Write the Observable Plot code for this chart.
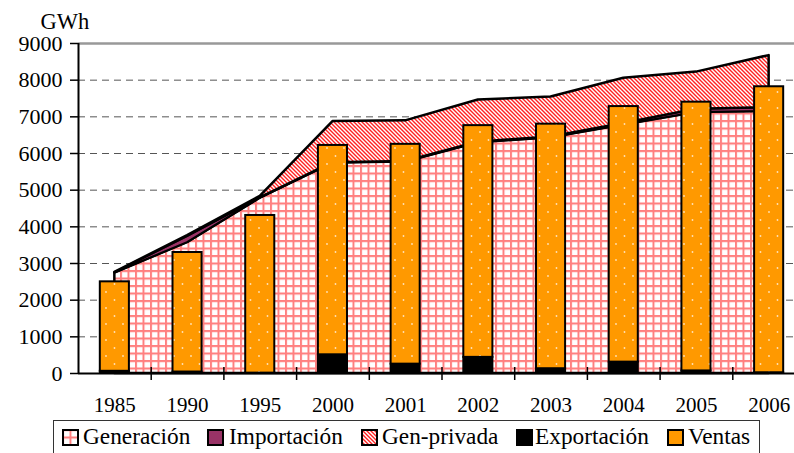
<!DOCTYPE html>
<html>
<head>
<meta charset="utf-8">
<script src="https://cdn.jsdelivr.net/npm/d3@7"></script>
<script src="https://cdn.jsdelivr.net/npm/@observablehq/plot@0.6"></script>
<style>
  html, body { margin: 0; padding: 0; background: #fff; overflow: hidden; width: 794px; height: 453px; }
  #wrap { position: relative; width: 794px; height: 453px; }
  #legend { position: absolute; left: 53px; top: 420px; width: 707px; height: 40px; border: 1px solid #333; box-sizing: border-box;
            font-family: "Liberation Serif", "Times New Roman", serif; font-size: 23.3px; color: #000; }
  #legend .sw { position: absolute; top: 8px; width: 17px; height: 17px; }
  #legend .lbl { position: absolute; top: 4px; line-height: 23px; white-space: nowrap; }
</style>
</head>
<body>
<div id="wrap">
  <div id="chart"></div>
  <div id="legend"></div>
</div>
<script>
// ---- data (GWh) ----
const years       = ["1985", "1990", "1995", "2000", "2001", "2002", "2003", "2004", "2005", "2006"];
const generacion  = [2740, 3570, 4780, 5740, 5770, 6290, 6430, 6780, 7120, 7150];
const importacion = [10, 170, 10, 10, 10, 20, 20, 40, 90, 100];
const genPrivada  = [10, 20, 40, 1120, 1110, 1150, 1090, 1230, 1010, 1420];
const exportacion = [60, 40, 10, 510, 255, 440, 130, 310, 70, 20];
const ventas      = [2440, 3260, 4300, 5710, 5995, 6320, 6670, 6970, 7330, 7800];
const yTicks      = [0, 1000, 2000, 3000, 4000, 5000, 6000, 7000, 8000, 9000];
const seriesNames = ["Generación", "Importación", "Gen-privada", "Exportación", "Ventas"];

const rows = years.map((year, i) => ({
  i, year,
  gen: generacion[i],
  imp: importacion[i],
  priv: genPrivada[i],
  exp: exportacion[i],
  ven: ventas[i]
}));
const bounds = years.slice(1).map((_, k) => k + 0.5);
const half = 0.2;

const svg = Plot.plot({
  width: 794,
  height: 418,
  marginTop: 43,
  marginBottom: 45,
  marginLeft: 78,
  marginRight: 0,
  style: { fontFamily: "'Liberation Serif', 'Times New Roman', serif", fontSize: "21px", color: "#000", background: "#fff", overflow: "visible" },
  x: { type: "linear", domain: [-0.5, 9.5], range: [78, 805] },
  y: { domain: [0, 9000] },
  marks: [
    Plot.ruleY(yTicks.filter(v => v > 0 && v < 9000), { stroke: "#555", strokeWidth: 1, strokeDasharray: "7,5" }),
    Plot.ruleY([9000], { stroke: "#999", strokeWidth: 2.5 }),
    // stacked areas
    Plot.areaY(rows, { x: "i", y1: 0, y2: d => d.gen, fill: "url(#pGrid)", stroke: "#000", strokeWidth: 2.5, strokeLinejoin: "round" }),
    Plot.areaY(rows, { x: "i", y1: d => d.gen, y2: d => d.gen + d.imp, fill: "#993366", stroke: "#000", strokeWidth: 2, strokeLinejoin: "round" }),
    Plot.areaY(rows, { x: "i", y1: d => d.gen + d.imp, y2: d => d.gen + d.imp + d.priv, fill: "url(#pDiag)", stroke: "#000", strokeWidth: 2.5, strokeLinejoin: "round" }),
    // stacked columns
    Plot.rect(rows, { x1: d => d.i - half, x2: d => d.i + half, y1: 0, y2: d => d.exp, fill: "#000", stroke: "#000", strokeWidth: 2 }),
    Plot.rect(rows, { x1: d => d.i - half, x2: d => d.i + half, y1: d => d.exp, y2: d => d.exp + d.ven, fill: "url(#pDots)", stroke: "#000", strokeWidth: 2 }),
    // axes
    Plot.ruleY([0], { stroke: "#000", strokeWidth: 2 }),
    Plot.ruleX([-0.5], { stroke: "#000", strokeWidth: 2 }),
    Plot.axisY({ ticks: yTicks, tickSize: 8, tickPadding: 8, tickFormat: "d", label: null, strokeWidth: 1.5 }),
    Plot.axisX({ ticks: bounds, tickSize: 13, dy: -6, tickFormat: () => "", label: null, strokeWidth: 1.5 }),
    Plot.axisX({ ticks: rows.map(d => d.i), tickSize: 0, tickPadding: 24, tickFormat: i => years[i], label: null }),
    Plot.text(["GWh"], { text: d => d, frameAnchor: "top-left", dx: -38, dy: -21.5, textAnchor: "start", lineAnchor: "middle", fontSize: 22.5 })
  ]
});

// patterns
const defs = d3.select(svg).insert("defs", ":first-child");
const pg = defs.append("pattern").attr("id", "pGrid").attr("patternUnits", "userSpaceOnUse").attr("width", 7.5).attr("height", 7.5);
pg.append("rect").attr("width", 7.5).attr("height", 7.5).attr("fill", "#fff");
pg.append("path").attr("d", "M0,1H7.5M1,0V7.5").attr("stroke", "#ff8080").attr("stroke-width", 2).attr("fill", "none");
const pd = defs.append("pattern").attr("id", "pDiag").attr("patternUnits", "userSpaceOnUse").attr("width", 4).attr("height", 4);
pd.append("rect").attr("width", 4).attr("height", 4).attr("fill", "#fff");
pd.append("path").attr("d", "M0,0L4,4M-1,3L1,5M3,-1L5,1").attr("stroke", "#ff2020").attr("stroke-width", 1.4).attr("fill", "none");
const pdots = defs.append("pattern").attr("id", "pDots").attr("patternUnits", "userSpaceOnUse").attr("width", 17).attr("height", 16);
pdots.append("rect").attr("width", 17).attr("height", 16).attr("fill", "#ff9900");
pdots.append("circle").attr("cx", 4).attr("cy", 4).attr("r", 0.9).attr("fill", "#ffe2b8");
pdots.append("circle").attr("cx", 12.5).attr("cy", 12).attr("r", 0.9).attr("fill", "#ffe2b8");

d3.select(svg).selectAll('g[aria-label="y-axis tick label"]').attr("font-size", 22);

document.getElementById("chart").appendChild(svg);

// legend
const fills = ["url(#pGrid)", "#993366", "url(#pDiag)", "#000", "#ff9900"];
const swX = [8, 153, 307, 462, 613];
const txX = [29, 175, 328, 481, 634];
const legend = d3.select("#legend");
seriesNames.forEach((name, k) => {
  const s = legend.append("svg").attr("class", "sw").style("left", swX[k] + "px").attr("width", 17).attr("height", 17);
  s.append("rect").attr("x", 1).attr("y", 1).attr("width", 15).attr("height", 15)
    .attr("fill", fills[k]).attr("stroke", "#000").attr("stroke-width", 2);
  legend.append("span").attr("class", "lbl").style("left", txX[k] + "px").text(name);
});
</script>
</body>
</html>
